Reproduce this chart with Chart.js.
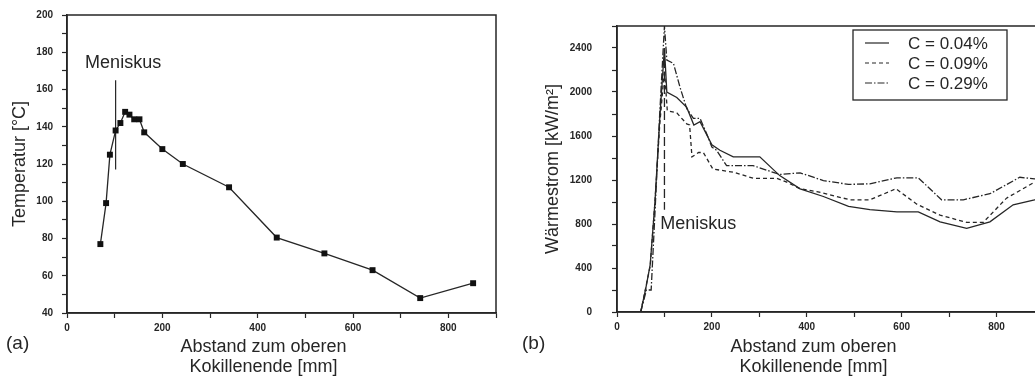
<!DOCTYPE html>
<html>
<head>
<meta charset="utf-8">
<script src="https://cdn.jsdelivr.net/npm/chart.js@4"></script>
<style>
    html, body { margin: 0; padding: 0; background: #fff; overflow: hidden; }
    #wrap { position: relative; width: 1035px; height: 379px; overflow: hidden; }
    canvas { position: absolute; top: 0; }
    #links { left: 0; }
    #rechts { left: 520px; }
</style>
</head>
<body>
<div id="wrap">
    <canvas id="links" width="515" height="379"></canvas>
    <canvas id="rechts" width="540" height="379"></canvas>
</div>
<script>
// (a) Temperatur ueber Abstand
const abstandTemp = [70, 82, 90, 102, 112, 122, 131, 141, 152, 162, 200, 243, 340, 440, 540, 641, 741, 852];
const temperatur = [77, 99, 125, 138, 142, 148, 146.5, 144, 144, 137, 128, 120, 107.5, 80.5, 72, 63, 48, 56];
const meniskusLinksX = [102, 102];
const meniskusLinksY = [165, 117];

// (b) Waermestrom fuer drei C-Gehalte
const abstand004 = [50, 60, 70, 80, 90, 100, 105, 126, 147, 162, 175, 200, 217, 245, 301, 343, 386, 435, 488, 533, 590, 635, 681, 737, 786, 835, 880, 900];
const waerme004 = [0, 200, 430, 1000, 1750, 2400, 2000, 1950, 1860, 1700, 1730, 1520, 1470, 1410, 1410, 1240, 1120, 1050, 960, 930, 910, 910, 820, 760, 820, 975, 1020, 1050];
const abstand009 = [50, 70, 80, 90, 100, 106, 126, 147, 153, 158, 172, 182, 202, 246, 288, 337, 358, 386, 421, 491, 533, 588, 632, 681, 737, 772, 821, 880, 900];
const waerme009 = [0, 420, 1000, 1700, 2200, 1830, 1810, 1710, 1700, 1410, 1450, 1450, 1300, 1270, 1215, 1215, 1180, 1120, 1095, 1020, 1020, 1120, 980, 880, 815, 815, 1035, 1180, 1200];
const abstand029 = [50, 62, 72, 80, 90, 100, 105, 119, 133, 147, 161, 175, 189, 200, 210, 231, 287, 343, 386, 435, 488, 533, 590, 635, 684, 730, 786, 849, 880, 900];
const waerme029 = [0, 200, 200, 900, 1800, 2600, 2290, 2260, 2040, 1850, 1760, 1760, 1620, 1500, 1470, 1330, 1330, 1250, 1265, 1195, 1160, 1165, 1220, 1220, 1020, 1020, 1075, 1225, 1210, 1210];
const meniskusRechtsX = [100, 100];
const meniskusRechtsY = [2300, 930];
const reihen = ['C = 0.04%', 'C = 0.09%', 'C = 0.29%'];

// Achsenbeschriftung
const xTicks = [0, 200, 400, 600, 800];
const yTicksTemp = [40, 60, 80, 100, 120, 140, 160, 180, 200];
const yTicksWaerme = [0, 400, 800, 1200, 1600, 2000, 2400];

const SCHRIFT = "'Liberation Sans', Arial, sans-serif";
const TINTE = '#262626';

const punkte = (xs, ys) => xs.map((x, i) => ({ x, y: ys[i] }));

const rahmen = {
    id: 'rahmen',
    afterDraw(chart) {
        const { ctx, chartArea: a } = chart;
        ctx.save();
        ctx.strokeStyle = TINTE;
        ctx.lineWidth = 1.5;
        ctx.strokeRect(a.left, a.top, a.right - a.left, a.bottom - a.top);
        ctx.restore();
    }
};

// freie Texte: Meniskus, (a)/(b), Titel der x-Achse
const beschriftung = {
    id: 'beschriftung',
    afterDraw(chart, args, opts) {
        const { ctx, chartArea: a } = chart;
        ctx.save();
        ctx.fillStyle = TINTE;
        ctx.textBaseline = 'middle';
        (opts.items || []).forEach(it => {
            let x = it.x, y = it.y;
            if (it.daten) {
                x = chart.scales.x.getPixelForValue(it.x);
                y = chart.scales.y.getPixelForValue(it.y);
            }
            if (it.mitte) x = (a.left + a.right) / 2 + it.x;
            ctx.font = `${it.size}px ${SCHRIFT}`;
            ctx.textAlign = it.mitte ? 'center' : 'left';
            ctx.fillText(it.text, x, y);
        });
        ctx.restore();
    }
};

const kasten = {
    id: 'kasten',
    afterDraw(chart, args, opts) {
        if (!opts.box) return;
        const { ctx } = chart;
        const b = opts.box;
        ctx.save();
        ctx.strokeStyle = TINTE;
        ctx.lineWidth = 1.3;
        ctx.strokeRect(b.x, b.y, b.w, b.h);
        const sets = chart.data.datasets.filter(d => d.label);
        sets.forEach((d, i) => {
            const y = b.y + 13 + i * 20;
            ctx.beginPath();
            ctx.setLineDash(d.borderDash || []);
            ctx.lineWidth = 1.2;
            ctx.moveTo(b.x + 12, y);
            ctx.lineTo(b.x + 36, y);
            ctx.stroke();
            ctx.setLineDash([]);
            ctx.fillStyle = TINTE;
            ctx.font = `17px ${SCHRIFT}`;
            ctx.textBaseline = 'middle';
            ctx.fillText(d.label, b.x + 55, y + 1);
        });
        ctx.restore();
    }
};

const skala = (pos, min, max, step, labels, groesse, pad, titel) => ({
    type: 'linear',
    position: pos,
    min, max,
    afterFit: s => { if (pos === 'left') s.width = groesse; else s.height = groesse; },
    border: { display: true, color: TINTE, width: 1.5 },
    grid: { drawOnChartArea: false, drawTicks: true, tickLength: 5, tickColor: TINTE, tickWidth: 1.2 },
    ticks: {
        stepSize: step, autoSkip: false, maxRotation: 0, padding: pad, color: TINTE,
        font: { family: SCHRIFT, size: 10, weight: 'bold' },
        callback: v => labels.includes(v) ? v : ''
    },
    title: titel ? {
        display: true, text: titel.text, color: TINTE,
        font: { family: SCHRIFT, size: 18 }, padding: { top: titel.pad }
    } : { display: false }
});

const xTitel = (dx) => [
    { text: 'Abstand zum oberen', x: dx, y: 347, size: 18, mitte: true },
    { text: 'Kokillenende [mm]', x: dx, y: 367, size: 18, mitte: true }
];

new Chart(document.getElementById('links'), {
    type: 'line',
    data: {
        datasets: [
            {
                data: punkte(abstandTemp, temperatur),
                borderColor: TINTE, borderWidth: 1.3, tension: 0,
                pointStyle: 'rect', pointRadius: 4.2,
                pointBackgroundColor: '#111', pointBorderColor: '#111', pointBorderWidth: 0
            },
            { data: punkte(meniskusLinksX, meniskusLinksY), borderColor: TINTE, borderWidth: 1.2, pointRadius: 0 }
        ]
    },
    options: {
        responsive: false,
        animation: false,
        layout: { padding: { top: 15, right: 19, bottom: 0, left: 0 } },
        plugins: {
            legend: { display: false },
            tooltip: { enabled: false },
            beschriftung: {
                items: [
                    { text: 'Meniskus', x: 38, y: 174, size: 18, daten: true },
                    { text: '(a)', x: 6, y: 344, size: 19 },
                    ...xTitel(-18)
                ]
            }
        },
        scales: {
            x: skala('bottom', 0, 900, 100, xTicks, 66, 4),
            y: skala('left', 40, 200, 10, yTicksTemp, 67, 9, { text: 'Temperatur [°C]', pad: 9 })
        }
    },
    plugins: [rahmen, beschriftung]
});

new Chart(document.getElementById('rechts'), {
    type: 'line',
    data: {
        datasets: [
            { label: reihen[0], data: punkte(abstand004, waerme004), borderColor: TINTE, borderWidth: 1.3, pointRadius: 0, tension: 0 },
            { label: reihen[1], data: punkte(abstand009, waerme009), borderColor: TINTE, borderWidth: 1.3, borderDash: [4, 3], pointRadius: 0, tension: 0 },
            { label: reihen[2], data: punkte(abstand029, waerme029), borderColor: TINTE, borderWidth: 1.3, borderDash: [7, 2, 1.5, 2], pointRadius: 0, tension: 0 },
            { data: punkte(meniskusRechtsX, meniskusRechtsY), borderColor: TINTE, borderWidth: 1.3, borderDash: [9, 4], pointRadius: 0 }
        ]
    },
    options: {
        responsive: false,
        animation: false,
        layout: { padding: { top: 14, right: 16, bottom: 0, left: 0 } },
        plugins: {
            legend: { display: false },
            tooltip: { enabled: false },
            kasten: { box: { x: 333, y: 30, w: 154, h: 70 } },
            beschriftung: {
                items: [
                    { text: 'Meniskus', x: 91, y: 802, size: 18, daten: true },
                    { text: '(b)', x: 2, y: 344, size: 19 },
                    ...xTitel(-17)
                ]
            }
        },
        scales: {
            x: skala('bottom', 0, 900, 100, xTicks, 67, 4),
            y: skala('left', 0, 2600, 200, yTicksWaerme, 97, 20, { text: 'Wärmestrom [kW/m²]', pad: 22 })
        }
    },
    plugins: [rahmen, beschriftung, kasten]
});
</script>
</body>
</html>
